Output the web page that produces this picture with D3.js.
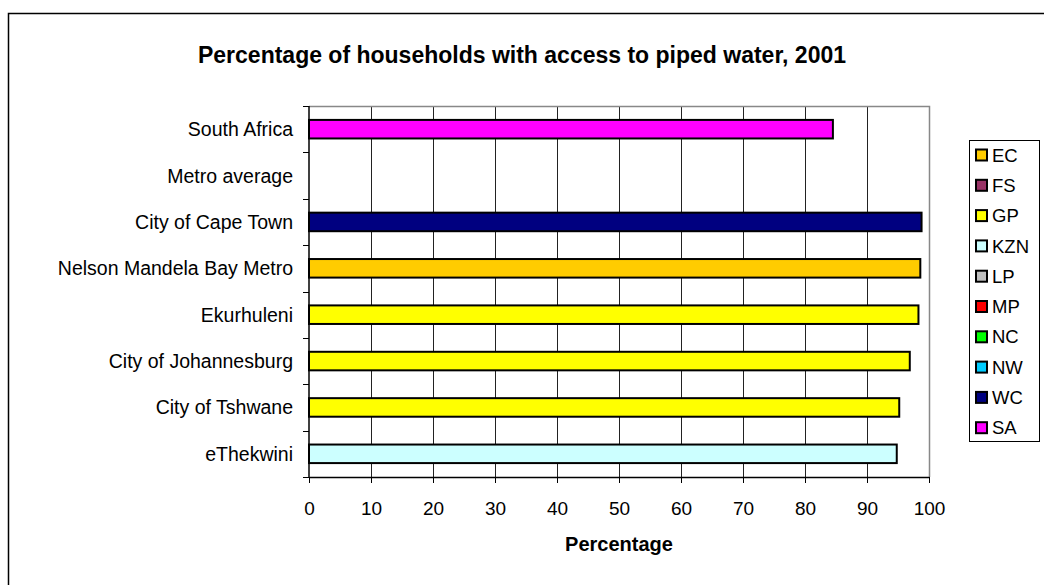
<!DOCTYPE html>
<html>
<head>
<meta charset="utf-8">
<script src="https://cdn.jsdelivr.net/npm/d3@7"></script>
<style>
  body { margin: 0; background: #fff; }
  svg { display: block; font-family: "Liberation Sans", Arial, sans-serif; }
</style>
</head>
<body>
<svg id="chart" width="1044" height="585"></svg>
<script>
// data
const categories = ['South Africa', 'Metro average', 'City of Cape Town', 'Nelson Mandela Bay Metro',
                    'Ekurhuleni', 'City of Johannesburg', 'City of Tshwane', 'eThekwini'];
const values = [84.5, null, 98.8, 98.6, 98.3, 96.9, 95.2, 94.8];
const province = ['SA', null, 'WC', 'EC', 'GP', 'GP', 'GP', 'KZN'];
const legendKeys = ['EC', 'FS', 'GP', 'KZN', 'LP', 'MP', 'NC', 'NW', 'WC', 'SA'];
const legendColors = ['#FFCC00', '#993366', '#FFFF00', '#CCFFFF', '#C0C0C0', '#FF0000', '#00FF00', '#00CCFF', '#000080', '#FF00FF'];
const xTicks = [0, 10, 20, 30, 40, 50, 60, 70, 80, 90, 100];

const svg = d3.select('#chart');
const plot = { left: 309, right: 929, top: 106, bottom: 477 };
const font = '"Liberation Sans", Arial, sans-serif';

const color = d3.scaleOrdinal().domain(legendKeys).range(legendColors);

// outer frame
svg.append('rect')
  .attr('x', 8.5).attr('y', 13.5)
  .attr('width', 1100).attr('height', 700)
  .attr('fill', '#fff').attr('stroke', '#000').attr('stroke-width', 1.5);

const x = d3.scaleLinear().domain([0, 100]).range([plot.left, plot.right]);
const y = d3.scaleBand().domain(categories).range([plot.top, plot.bottom]).paddingInner(0.6).paddingOuter(0.3);
const yEdge = d3.scaleBand().domain(categories).range([plot.top, plot.bottom]);

// gridlines
svg.append('g')
  .selectAll('line')
  .data(xTicks.slice(1, -1))
  .join('line')
    .attr('x1', d => Math.round(x(d)) + 0.5).attr('x2', d => Math.round(x(d)) + 0.5)
    .attr('y1', plot.top).attr('y2', plot.bottom)
    .attr('stroke', '#222').attr('stroke-width', 1);

// plot border top/right
svg.append('path')
  .attr('d', `M${plot.left},${plot.top + 0.5}H${plot.right + 0.5}V${plot.bottom}`)
  .attr('fill', 'none').attr('stroke', '#888').attr('stroke-width', 1.5);

// bars
const rows = categories.map((c, i) => ({ name: c, value: values[i], key: province[i] }))
  .filter(d => d.value != null);

svg.append('g')
  .selectAll('rect')
  .data(rows)
  .join('rect')
    .attr('x', x(0))
    .attr('y', d => y(d.name))
    .attr('width', d => x(d.value) - x(0))
    .attr('height', y.bandwidth())
    .attr('fill', d => color(d.key))
    .attr('stroke', '#000').attr('stroke-width', 2);

// x axis
const xAxis = svg.append('g')
  .attr('transform', `translate(0,${plot.bottom})`)
  .call(d3.axisBottom(x).tickValues(xTicks).tickSize(6).tickSizeOuter(0).tickPadding(19));
xAxis.select('.domain').attr('stroke', '#000').attr('stroke-width', 1.5);
xAxis.selectAll('.tick line').attr('stroke', '#000');
xAxis.selectAll('text').attr('font-size', 19).attr('fill', '#000').attr('font-family', font);

// y axis: ticks at band edges
svg.append('line')
  .attr('x1', plot.left).attr('x2', plot.left)
  .attr('y1', plot.top).attr('y2', plot.bottom)
  .attr('stroke', '#000').attr('stroke-width', 1.5);
svg.append('g')
  .selectAll('line')
  .data(categories.concat(['end']))
  .join('line')
    .attr('x1', plot.left - 6).attr('x2', plot.left)
    .attr('y1', (d, i) => Math.round(plot.top + i * yEdge.step()) + 0.5)
    .attr('y2', (d, i) => Math.round(plot.top + i * yEdge.step()) + 0.5)
    .attr('stroke', '#000');
svg.append('g')
  .selectAll('text')
  .data(categories)
  .join('text')
    .attr('x', 293)
    .attr('y', d => yEdge(d) + yEdge.bandwidth() / 2)
    .attr('dy', '0.36em')
    .attr('text-anchor', 'end')
    .attr('font-size', 19.5)
    .text(d => d);

// titles
svg.append('text')
  .attr('x', 522).attr('y', 63)
  .attr('text-anchor', 'middle')
  .attr('font-size', 23).attr('font-weight', 'bold')
  .text('Percentage of households with access to piped water, 2001');

svg.append('text')
  .attr('x', x(50)).attr('y', 551)
  .attr('text-anchor', 'middle')
  .attr('font-size', 20).attr('font-weight', 'bold')
  .text('Percentage');

// legend
const legend = svg.append('g');
legend.append('rect')
  .attr('x', 969.5).attr('y', 140.5)
  .attr('width', 70).attr('height', 301)
  .attr('fill', '#fff').attr('stroke', '#000').attr('stroke-width', 1);
const items = legend.selectAll('g.item')
  .data(legendKeys)
  .join('g')
    .attr('class', 'item')
    .attr('transform', (d, i) => `translate(976,${155 + i * 30.3})`);
items.append('rect')
  .attr('x', 0).attr('y', -5.5)
  .attr('width', 11).attr('height', 11)
  .attr('fill', d => color(d))
  .attr('stroke', '#000').attr('stroke-width', 2);
items.append('text')
  .attr('x', 16).attr('y', 0).attr('dy', '0.36em')
  .attr('font-size', 18.5)
  .text(d => d);
</script>
</body>
</html>
